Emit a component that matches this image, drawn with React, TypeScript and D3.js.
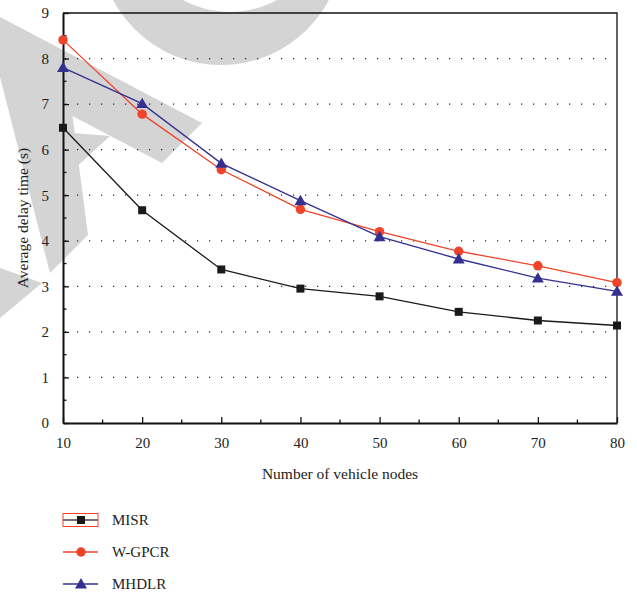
import { useEffect, useRef } from "react";
import * as d3 from "d3";

const nodes = [10, 20, 30, 40, 50, 60, 70, 80];
const misr = [6.48, 4.67, 3.37, 2.95, 2.78, 2.44, 2.25, 2.14];
const wgpcr = [8.41, 6.78, 5.56, 4.69, 4.2, 3.77, 3.45, 3.08];
const mhdlr = [7.8, 7.01, 5.7, 4.88, 4.09, 3.6, 3.18, 2.89];
const yTicks = [0, 1, 2, 3, 4, 5, 6, 7, 8, 9];
const seriesNames = ["MISR", "W-GPCR", "MHDLR"];

const App = () => {
  const svgRef = useRef<SVGSVGElement>(null);

  useEffect(() => {
    const width = 637;
    const height = 592;
    const margin = { top: 13, right: 20, bottom: 169, left: 63 };
    const font = "'Liberation Serif', 'DejaVu Serif', serif";

    const svg = d3.select(svgRef.current);
    svg.selectAll("*").remove();
    svg.attr("width", width).attr("height", height);

    // watermark shapes behind the chart
    const wm = svg.append("g").attr("fill", "#d4d4d4");
    wm.append("circle").attr("cx", 221).attr("cy", -57).attr("r", 122);
    wm.append("circle").attr("cx", 230).attr("cy", -86).attr("r", 98).attr("fill", "white");
    const polys = [
      [[0, 17], [202, 123], [162, 163], [0, 78]],
      [[0, 77], [72, 112], [88, 235], [50, 273]],
      [[60, 132], [110, 136], [60, 182]],
      [[0, 268], [42, 283], [0, 318]],
    ];
    polys.forEach((p) => wm.append("polygon").attr("points", p.map((q) => q.join(",")).join(" ")));

    const x = d3.scaleLinear()
      .domain([10, 80])
      .range([margin.left, width - margin.right]);

    const y = d3.scaleLinear()
      .domain([0, 9])
      .range([height - margin.bottom, margin.top]);

    // dotted grid
    svg.append("g")
      .selectAll("line")
      .data(yTicks.filter((d) => d > 0 && d < 9))
      .join("line")
        .attr("x1", x(10) + 2)
        .attr("x2", x(80))
        .attr("y1", (d) => y(d))
        .attr("y2", (d) => y(d))
        .attr("stroke", "#222")
        .attr("stroke-width", 1.2)
        .attr("stroke-dasharray", "1.2,10.8");

    // frame top and right
    svg.append("path")
      .attr("d", `M${x(10)},${y(9)}H${x(80)}V${y(0)}`)
      .attr("fill", "none")
      .attr("stroke", "#111")
      .attr("stroke-width", 1.3);

    // x axis
    const xAxis = svg.append("g")
      .attr("transform", `translate(0,${y(0)})`)
      .call(d3.axisBottom(x).tickValues(nodes).tickSizeInner(-6).tickSizeOuter(0).tickPadding(14).tickFormat(d3.format("d")));
    xAxis.select(".domain").attr("stroke-width", 2).attr("stroke", "#111");
    xAxis.selectAll(".tick line").attr("stroke-width", 1.3).attr("stroke", "#111");
    xAxis.selectAll("text").attr("font-family", font).attr("font-size", 15).attr("fill", "#222");
    svg.append("g")
      .selectAll("line")
      .data(d3.range(15, 80, 10))
      .join("line")
        .attr("x1", (d) => x(d)).attr("x2", (d) => x(d))
        .attr("y1", y(0)).attr("y2", y(0) - 3.5)
        .attr("stroke", "#111").attr("stroke-width", 1.3);

    // y axis
    const yAxis = svg.append("g")
      .attr("transform", `translate(${x(10)},0)`)
      .call(d3.axisLeft(y).tickValues(yTicks).tickSizeInner(-6).tickSizeOuter(0).tickPadding(14));
    yAxis.select(".domain").attr("stroke-width", 2).attr("stroke", "#111");
    yAxis.selectAll(".tick line").attr("stroke-width", 1.3).attr("stroke", "#111");
    yAxis.selectAll("text").attr("font-family", font).attr("font-size", 15).attr("fill", "#222");
    svg.append("g")
      .selectAll("line")
      .data(d3.range(0.5, 9, 1))
      .join("line")
        .attr("x1", x(10)).attr("x2", x(10) + 3.5)
        .attr("y1", (d) => y(d)).attr("y2", (d) => y(d))
        .attr("stroke", "#111").attr("stroke-width", 1.3);

    // axis titles
    svg.append("text")
      .attr("x", (x(10) + x(80)) / 2)
      .attr("y", 479)
      .attr("text-anchor", "middle")
      .attr("font-family", font)
      .attr("font-size", 15.5)
      .attr("fill", "#222")
      .text("Number of vehicle nodes");

    svg.append("text")
      .attr("transform", `translate(28,${(y(0) + y(9)) / 2}) rotate(-90)`)
      .attr("text-anchor", "middle")
      .attr("font-family", font)
      .attr("font-size", 15.5)
      .attr("fill", "#222")
      .text("Average delay time (s)");

    const series = [
      { name: seriesNames[0], values: misr, color: "#1a1a1a", shape: d3.symbolSquare, size: 64 },
      { name: seriesNames[1], values: wgpcr, color: "#f0442a", shape: d3.symbolCircle, size: 70 },
      { name: seriesNames[2], values: mhdlr, color: "#33308f", shape: d3.symbolTriangle, size: 62 },
    ];

    const line = d3.line<number>()
      .x((_, i) => x(nodes[i]))
      .y((d) => y(d));

    series.forEach((s) => {
      const g = svg.append("g");
      g.append("path")
        .attr("d", line(s.values))
        .attr("fill", "none")
        .attr("stroke", s.color)
        .attr("stroke-width", 1.3);
      g.selectAll("path.m")
        .data(s.values)
        .join("path")
          .attr("class", "m")
          .attr("transform", (d, i) => `translate(${x(nodes[i])},${y(d) + (s.shape === d3.symbolTriangle ? 1 : 0)})`)
          .attr("d", d3.symbol().type(s.shape).size(s.size)())
          .attr("fill", s.color);
    });

    // legend
    const legend = svg.append("g").attr("transform", "translate(63,520)");
    series.forEach((s, i) => {
      const row = legend.append("g").attr("transform", `translate(0,${i * 32})`);
      row.append("line")
        .attr("x1", 0).attr("x2", 35)
        .attr("stroke", i === 0 ? "#444" : s.color)
        .attr("stroke-width", 1.3);
      row.append("path")
        .attr("transform", `translate(18,${s.shape === d3.symbolTriangle ? 1 : 0})`)
        .attr("d", d3.symbol().type(s.shape).size(s.size)())
        .attr("fill", s.color);
      if (i === 0) {
        row.append("rect")
          .attr("x", 0).attr("y", -6.5).attr("width", 35).attr("height", 13)
          .attr("fill", "none").attr("stroke", "#f0442a").attr("stroke-width", 1);
      }
      row.append("text")
        .attr("x", 49)
        .attr("y", 5)
        .attr("font-family", font)
        .attr("font-size", 15)
        .attr("fill", "#222")
        .text(s.name);
    });
  }, []);

  return (
    <svg ref={svgRef} style={{ position: "absolute", left: 0, top: 0 }}></svg>
  );
};

export default App;
